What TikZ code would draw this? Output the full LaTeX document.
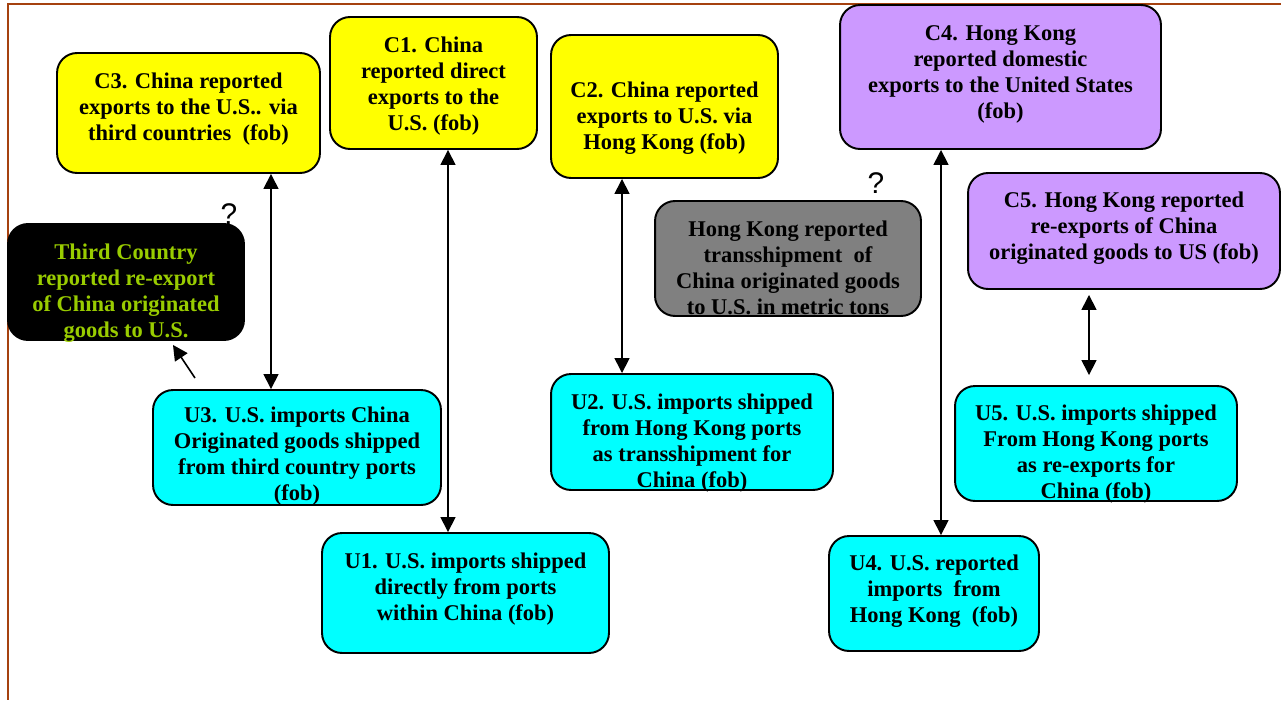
\documentclass[tikz,border=0pt]{standalone}
\usepackage{fontspec}
\setmainfont{Liberation Serif}
\setsansfont{Liberation Sans}
\usepackage{tikz}
\usetikzlibrary{arrows.meta, positioning}
\usepackage{xcolor}
\definecolor{chinayellow}{RGB}{255,255,0}
\definecolor{importcyan}{RGB}{0,255,255}
\definecolor{hklilac}{RGB}{204,153,255}
\definecolor{tshipgray}{RGB}{128,128,128}
\definecolor{olivetext}{RGB}{153,204,0}
\definecolor{framebrown}{RGB}{165,65,15}
% centred lines, raised or lowered inside the box without changing its size
\newcommand{\boxtext}[2]{\raisebox{#1}[\height][\depth]{\begin{tabular}{@{}c@{}}#2\end{tabular}}}

\begin{document}
\begin{tikzpicture}[x=0.02cm, y=-0.02cm,
  every node/.style={font=\bfseries\fontsize{12.8}{14.8}\selectfont},
  box/.style={draw, line width=1.1pt, rounded corners=0.4cm, align=center, inner sep=2pt},
  china/.style={box, fill=chinayellow},
  usimp/.style={box, fill=importcyan},
  hkong/.style={box, fill=hklilac},
  link/.style={line width=0.9pt, {Triangle[length=0.3cm, width=0.3cm]}-{Triangle[length=0.3cm, width=0.3cm]}},
  qmark/.style={font=\sffamily\fontsize{17}{17}\selectfont}]
  \useasboundingbox (0,0) rectangle (1281,700);

  % Frame
  \draw[framebrown, line width=1.2pt] (1281,4) -- (8,4) -- (8,700);

  % China reported
  \node[china, minimum width=5.26cm, minimum height=2.4cm] (c3) at (188.5,113) {\boxtext{2.3pt}{C3. China reported\\exports to the U.S.. via\\third countries~ (fob)}};
  \node[china, minimum width=4.14cm, minimum height=2.64cm] (c1) at (433.5,83) {\boxtext{-1.7pt}{C1. China\\reported direct\\exports to the\\U.S. (fob)}};
  \node[china, minimum width=4.54cm, minimum height=2.86cm] (c2) at (664.5,106.5) {\boxtext{-6.8pt}{C2. China reported\\exports to U.S. via\\Hong Kong (fob)}};

  % Hong Kong reported
  \node[hkong, minimum width=6.42cm, minimum height=2.88cm] (c4) at (1000.5,77) {\boxtext{1.7pt}{C4. Hong Kong\\reported domestic\\exports to the United States\\(fob)}};
  \node[hkong, minimum width=6.24cm, minimum height=2.32cm] (c5) at (1124,231) {\boxtext{1.7pt}{C5. Hong Kong reported\\re-exports of China\\originated goods to US (fob)}};
  \node[box, fill=tshipgray, minimum width=5.32cm, minimum height=2.3cm] (tship) at (788,258.5) {\boxtext{-6.5pt}{Hong Kong reported\\transshipment~ of\\China originated goods\\to U.S. in metric tons}};

  % Third country
  \node[box, fill=black, text=olivetext, minimum width=4.72cm, minimum height=2.32cm] (third) at (126,282) {\boxtext{-6.2pt}{Third Country\\reported re-export\\of China originated\\goods to U.S.}};

  % U.S. imports
  \node[usimp, minimum width=5.76cm, minimum height=2.3cm] (u3) at (297,447.5) {\boxtext{-5.1pt}{U3. U.S. imports China\\Originated goods shipped\\from third country ports\\(fob)}};
  \node[usimp, minimum width=5.74cm, minimum height=2.4cm] (u1) at (465.5,593) {\boxtext{2.3pt}{U1. U.S. imports shipped\\directly from ports\\within China (fob)}};
  \node[usimp, minimum width=5.64cm, minimum height=2.32cm] (u2) at (692,432) {\boxtext{-6.2pt}{U2. U.S. imports shipped\\from Hong Kong ports\\as transshipment for\\China (fob)}};
  \node[usimp, minimum width=5.64cm, minimum height=2.3cm] (u5) at (1096,443.5) {\boxtext{-6.2pt}{U5. U.S. imports shipped\\From Hong Kong ports\\as re-exports for\\China (fob)}};
  \node[usimp, minimum width=4.2cm, minimum height=2.3cm] (u4) at (934,593.5) {\boxtext{1.1pt}{U4. U.S. reported\\imports~ from\\Hong Kong~ (fob)}};

  % Question marks
  \node[qmark] (q1) at (229,214) {?};
  \node[qmark] (q2) at (876,183) {?};

  \draw[link] ([xshift=1.65cm]c3.south) -- ([xshift=-0.52cm]u3.north);
  \draw[link] ([xshift=0.29cm]c1.south) -- ([xshift=-0.35cm]u1.north);
  \draw[link] ([xshift=-0.85cm]c2.south) -- ([xshift=-1.4cm]u2.north);
  \draw[link] ([xshift=-1.19cm]c4.south) -- ([xshift=0.14cm]u4.north);
  \draw[link, shorten <=0.1cm, shorten >=0.2cm] ([xshift=-0.7cm]c5.south) -- ([xshift=-0.14cm]u5.north);

  \coordinate (tcfoot) at (195,378);
  \draw[line width=0.9pt, -{Triangle[length=0.3cm, width=0.3cm]}] (tcfoot) -- ([xshift=0.94cm, yshift=-0.08cm]third.south);
\end{tikzpicture}
\end{document}
